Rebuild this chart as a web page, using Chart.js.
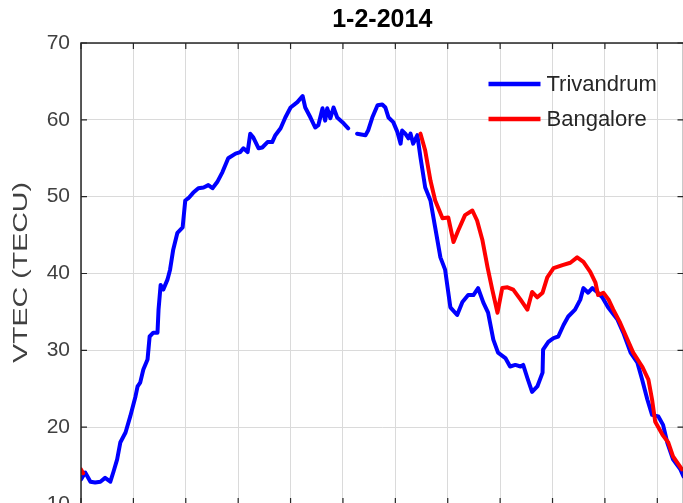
<!DOCTYPE html>
<html>
<head>
<meta charset="utf-8">
<script src="https://cdn.jsdelivr.net/npm/chart.js@4.4.1/dist/chart.umd.min.js"></script>
<style>
html, body { margin: 0; padding: 0; background: #fff; overflow: hidden; }
#wrap { position: relative; width: 720px; height: 560px; }
</style>
</head>
<body>
<div id="wrap"><canvas id="vtecChart"></canvas></div>
<script>
// values (hours, TECU)
const trivandrumHours = [
    0, 0.16, 0.36, 0.54, 0.74, 0.92, 1.12, 1.24, 1.38, 1.5, 1.7, 1.88, 2.08, 2.16, 2.26, 2.38, 2.54, 2.62, 2.76, 2.92,
    2.96, 3.04, 3.14, 3.3, 3.4, 3.52, 3.68, 3.88, 3.98, 4.1, 4.28, 4.48, 4.68, 4.86, 5.02, 5.2, 5.4, 5.62, 5.9, 6.08,
    6.2, 6.36, 6.46, 6.58, 6.78, 6.92, 7.12, 7.3, 7.42, 7.62, 7.8, 8.0, 8.26, 8.46, 8.56, 8.76, 8.94, 9.06, 9.22, 9.32,
    9.4, 9.52, 9.64, 9.78, 9.98, 10.2, 10.36, 10.54, 10.86, 10.96, 11.12, 11.32, 11.5, 11.62, 11.74, 11.92, 12.08, 12.2, 12.26, 12.38,
    12.5, 12.58, 12.68, 12.84, 12.96, 13.14, 13.34, 13.52, 13.72, 13.9, 14.1, 14.36, 14.56, 14.78, 14.98, 15.16, 15.36, 15.54, 15.74, 15.92,
    16.2, 16.38, 16.58, 16.78, 16.88, 17.04, 17.22, 17.42, 17.62, 17.64, 17.84, 18.04, 18.22, 18.42, 18.6, 18.86, 19.06, 19.18, 19.36, 19.52,
    19.7, 19.9, 20.12, 20.48, 20.7, 20.98, 21.24, 21.42, 21.62, 21.8, 22.04, 22.22, 22.38, 22.6, 22.88, 23.0
];
const trivandrumVtec = [
    13.2, 14.1, 12.9, 12.8, 12.9, 13.4, 12.9, 14.2, 15.8, 18.0, 19.3, 21.4, 24.0, 25.3, 25.8, 27.5, 28.8, 31.8, 32.3, 32.3,
    35.3, 38.5, 37.9, 39.2, 40.5, 43.1, 45.3, 46.0, 49.5, 49.8, 50.5, 51.1, 51.2, 51.5, 51.1, 51.9, 53.2, 55.0, 55.6, 55.8,
    56.3, 55.8, 58.2, 57.7, 56.3, 56.4, 57.1, 57.1, 58.0, 58.9, 60.3, 61.6, 62.3, 63.1, 61.6, 60.3, 59.0, 59.3, 61.5, 59.9,
    61.5, 60.2, 61.6, 60.3, 59.7, 58.9, null, 58.2, 58.0, 58.6, 60.3, 61.9, 62.0, 61.6, 60.3, 59.7, 58.4, 56.9, 58.6, 58.2,
    57.6, 58.2, 56.9, 58.0, 55.1, 51.2, 49.5, 46.0, 42.1, 40.5, 35.6, 34.6, 36.3, 37.2, 37.2, 38.1, 36.2, 34.9, 31.4, 29.7,
    29.0, 27.9, 28.1, 27.9, 28.1, 26.4, 24.6, 25.3, 27.1, 30.1, 31.1, 31.6, 31.8, 33.3, 34.4, 35.3, 36.6, 38.1, 37.5, 38.1,
    37.6, 36.9, 35.6, 34.0, 32.3, 29.7, 28.4, 26.2, 23.6, 21.6, 21.4, 20.3, 18.0, 15.8, 14.5, 13.6
];
const bangaloreHours = [
    0, 0.08, 0.12,
    12.96, 13.14, 13.34, 13.52, 13.8, 14.02, 14.22, 14.4, 14.66, 14.94, 15.12, 15.32, 15.52, 15.7, 15.9, 16.08, 16.28, 16.5,
    16.78, 17.04, 17.22, 17.42, 17.62, 17.8, 18.04, 18.38, 18.68, 18.94, 19.18, 19.44, 19.64, 19.74, 19.94, 20.14, 20.32, 20.58,
    20.86, 21.08, 21.42, 21.66, 21.8, 21.92, 22.2, 22.42, 22.6, 22.94
];
const bangaloreVtec = [
    14.5, 14.0, null,
    58.2, 56.0, 52.1, 49.5, 47.2, 47.3, 44.1, 45.6, 47.6, 48.2, 46.9, 44.4, 40.8, 37.9, 34.9, 38.1, 38.2, 37.9,
    36.6, 35.3, 37.6, 36.9, 37.5, 39.5, 40.7, 41.1, 41.4, 42.1, 41.5, 40.2, 38.8, 37.2, 37.5, 36.6, 35.3, 33.6,
    31.4, 29.7, 27.9, 26.2, 23.6, 20.7, 19.0, 18.0, 16.2, 14.5
];
const xTicks = [0, 2, 4, 6, 8, 10, 12, 14, 16, 18, 20, 22];
const yTicks = [10, 20, 30, 40, 50, 60, 70];

const toPoints = (hours, vtec) => hours.map((h, i) => ({ x: h, y: vtec[i] }));
const FONT = '"Liberation Sans", Arial, Helvetica, sans-serif';

// box with inward ticks on all four sides
const framePlugin = {
    id: 'frame',
    afterDraw(chart) {
        const { ctx, chartArea: a, scales: { x, y } } = chart;
        ctx.save();
        ctx.strokeStyle = '#262626';
        ctx.lineWidth = 1.5;
        ctx.strokeRect(a.left, a.top, a.right - a.left, a.bottom - a.top);
        ctx.lineWidth = 1.2;
        ctx.beginPath();
        y.ticks.forEach(t => {
            const py = y.getPixelForValue(t.value);
            ctx.moveTo(a.left, py); ctx.lineTo(a.left + 6, py);
            ctx.moveTo(a.right, py); ctx.lineTo(a.right - 6, py);
        });
        x.ticks.forEach(t => {
            const px = x.getPixelForValue(t.value);
            ctx.moveTo(px, a.top); ctx.lineTo(px, a.top + 6);
            ctx.moveTo(px, a.bottom); ctx.lineTo(px, a.bottom - 6);
        });
        ctx.stroke();
        ctx.restore();
    }
};

// y label, stretched like the original rendering
const yTitlePlugin = {
    id: 'yTitle',
    afterDraw(chart) {
        const { ctx, chartArea: a } = chart;
        const label = 'VTEC (TECU)';
        ctx.save();
        ctx.translate(21, (a.top + a.bottom) / 2 - 1);
        ctx.rotate(-Math.PI / 2);
        ctx.font = '21px ' + FONT;
        const w = ctx.measureText(label).width;
        ctx.scale(181 / w, 1);
        ctx.fillStyle = '#404040';
        ctx.textAlign = 'center';
        ctx.textBaseline = 'middle';
        ctx.fillText(label, 0, 0);
        ctx.restore();
    }
};

// legend inside the axes, no box
const insideLegend = {
    id: 'insideLegend',
    afterDraw(chart) {
        const { ctx, chartArea: a } = chart;
        ctx.save();
        ctx.font = '22px ' + FONT;
        ctx.textBaseline = 'middle';
        ctx.textAlign = 'left';
        chart.data.datasets.forEach((ds, i) => {
            const ly = a.top + 41 + i * 35;
            const lx = a.right - 195;
            ctx.strokeStyle = ds.borderColor;
            ctx.lineWidth = 4.5;
            ctx.beginPath();
            ctx.moveTo(lx, ly);
            ctx.lineTo(lx + 52, ly);
            ctx.stroke();
            ctx.fillStyle = '#262626';
            ctx.fillText(ds.label, lx + 58, ly + 1);
        });
        ctx.restore();
    }
};

const vtecData = {
    datasets: [
        {
            label: 'Trivandrum',
            data: toPoints(trivandrumHours, trivandrumVtec),
            borderColor: '#0000ff',
            order: 1
        },
        {
            label: 'Bangalore',
            data: toPoints(bangaloreHours, bangaloreVtec),
            borderColor: '#ff0000',
            order: 0
        }
    ]
};

const vtecConfig = {
    type: 'line',
    data: vtecData,
    options: {
        responsive: true,
        maintainAspectRatio: false,
        devicePixelRatio: 1,
        animation: false,
        layout: { padding: { left: 0, top: 0, right: 36.5, bottom: 0 } },
        elements: {
            line: { borderWidth: 4, tension: 0, borderJoinStyle: 'round', borderCapStyle: 'round', fill: false },
            point: { radius: 0 }
        },
        scales: {
            x: {
                type: 'linear',
                min: 0,
                max: 23,
                afterBuildTicks: s => { s.ticks = xTicks.map(v => ({ value: v })); },
                afterFit: s => { s.height = 56; },
                grid: { color: '#dadada', lineWidth: 1, drawTicks: false },
                border: { display: false },
                ticks: { padding: 10, color: '#404040', font: { family: FONT, size: 21 } }
            },
            y: {
                min: 10,
                max: 70,
                afterBuildTicks: s => { s.ticks = yTicks.map(v => ({ value: v })); },
                afterFit: s => { s.width = 81; },
                grid: { color: '#dadada', lineWidth: 1, drawTicks: false },
                border: { display: false },
                ticks: { padding: 11, color: '#404040', font: { family: FONT, size: 21 } }
            }
        },
        plugins: {
            legend: { display: false },
            tooltip: { enabled: false },
            title: {
                display: true,
                text: '1-2-2014',
                fullSize: false,
                color: '#000',
                font: { family: FONT, size: 25, weight: 'bold' },
                padding: { top: 5, bottom: 8 }
            }
        }
    },
    plugins: [framePlugin, yTitlePlugin, insideLegend]
};

const vtecElement = document.querySelector('#vtecChart');
const vtecChart = new Chart(vtecElement, vtecConfig);
</script>
</body>
</html>
